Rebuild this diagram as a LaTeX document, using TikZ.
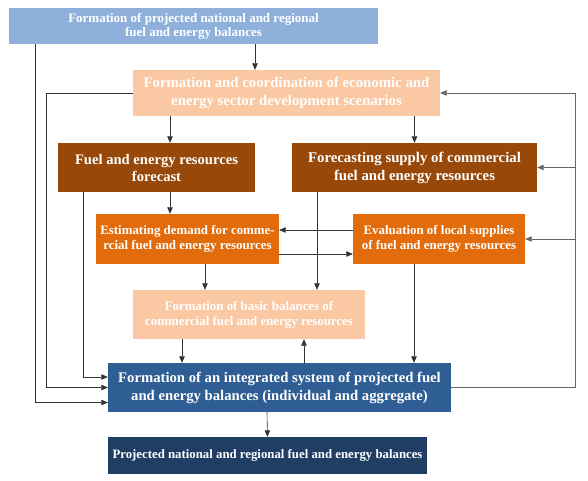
\documentclass[tikz,border=0pt]{standalone}
\usepackage{fontspec}
\setmainfont{Liberation Serif}
\usetikzlibrary{arrows.meta}
\definecolor{topblue}{RGB}{142,176,219}
\definecolor{peach}{RGB}{250,200,162}
\definecolor{brown}{RGB}{152,72,8}
\definecolor{orng}{RGB}{226,108,12}
\definecolor{midblue}{RGB}{46,94,148}
\definecolor{darkblue}{RGB}{32,62,100}
\tikzset{
  box/.style={inner sep=1pt, align=center, text=white, font=\bfseries},
  arr/.style={-{Triangle[length=6.5pt,width=5.5pt]}, draw=black!80, line width=0.6pt},
  ln/.style={draw=black!60, line width=0.6pt}
}
\begin{document}
\begin{tikzpicture}[x=1pt,y=-1pt]
\useasboundingbox (0,0) rectangle (588,480);
\node[box, fill=topblue, minimum width=369pt, minimum height=36pt, font=\bfseries\fontsize{13}{14}\selectfont] (A) at (193.5,26) {Formation of projected national and regional\\fuel and energy balances};
\node[box, fill=peach, minimum width=307pt, minimum height=46pt, font=\bfseries\fontsize{14.8}{18}\selectfont] (B) at (286.5,93) {Formation and coordination of economic and\\energy sector development scenarios};
\node[box, fill=brown, minimum width=197pt, minimum height=49pt, font=\bfseries\fontsize{14.6}{17}\selectfont] (C) at (156.5,167.5) {Fuel and energy resources\\forecast};
\node[box, fill=brown, minimum width=245pt, minimum height=49pt, font=\bfseries\fontsize{14.8}{18}\selectfont] (D) at (414.5,167.5) {Forecasting supply of commercial\\fuel and energy resources};
\node[box, fill=orng, minimum width=183pt, minimum height=50pt, font=\bfseries\fontsize{12.9}{14.5}\selectfont] (E) at (187.5,239) {Estimating demand for comme-\\rcial fuel and energy resources};
\node[box, fill=orng, minimum width=172pt, minimum height=50pt, font=\bfseries\fontsize{12.9}{14.5}\selectfont] (F) at (439,239) {Evaluation of local supplies\\of fuel and energy resources};
\node[box, fill=peach, minimum width=232pt, minimum height=49pt, font=\bfseries\fontsize{12.9}{15}\selectfont] (G) at (249,314.5) {Formation of basic balances of\\commercial fuel and energy resources};
\node[box, fill=midblue, minimum width=343pt, minimum height=49pt, font=\bfseries\fontsize{14.7}{18}\selectfont] (H) at (279.5,387.5) {Formation of an integrated system of projected fuel\\and energy balances (individual and aggregate)};
\node[box, fill=darkblue, minimum width=319pt, minimum height=37pt, font=\bfseries\fontsize{12.8}{14}\selectfont] (I) at (267.5,455.5) {Projected national and regional fuel and energy balances};

% top-down links
\draw[arr] ([xshift=61.5pt]A.south) -- ([xshift=-31.5pt]B.north);
\draw[arr] ([xshift=-116.5pt]B.south) -- ([xshift=13.5pt]C.north);
\draw[arr] (B.south -| D.north) -- (D.north);
\draw[arr] ([xshift=13.5pt]C.south) -- ([xshift=-17.5pt]E.north);
\draw[arr] ([xshift=-97.5pt]D.south) -- ([xshift=68pt]G.north);
\draw[arr] ([xshift=17.5pt]E.south) -- ([xshift=-44pt]G.north);
\draw[arr] ([xshift=-25pt]F.south) -- ([xshift=134.5pt]H.north);
\draw[arr] ([xshift=-67pt]G.south) -- ([xshift=-97.5pt]H.north);
\draw[arr] ([xshift=24.5pt]H.north) -- ([xshift=55pt]G.south);
\draw[arr] ([xshift=-12.5pt]H.south) -- (I.north);

% between demand and local supplies
\draw[arr] ([yshift=9pt]F.west) -- ([yshift=9pt]E.east);
\draw[arr] ([yshift=-15pt]E.east) -- ([yshift=-15pt]F.west);

% left side feeds
\draw[arr] ([xshift=26pt]A.south west) |- ([yshift=-15pt]H.west);
\draw[arr] (B.west) -- ++(-87pt,0) |- (H.west);
\draw[arr] ([xshift=25pt]C.south west) |- ([yshift=10.5pt]H.west);

% right side feedback
\coordinate (rt) at ([xshift=124pt]H.east);
\draw[ln] (H.east) -- (rt);
\draw[arr, draw=black!60] (rt) |- (B.east);
\draw[arr, draw=black!60] (rt) |- (D.east);
\draw[arr, draw=black!60] (rt) |- (F.east);
\end{tikzpicture}
\end{document}
